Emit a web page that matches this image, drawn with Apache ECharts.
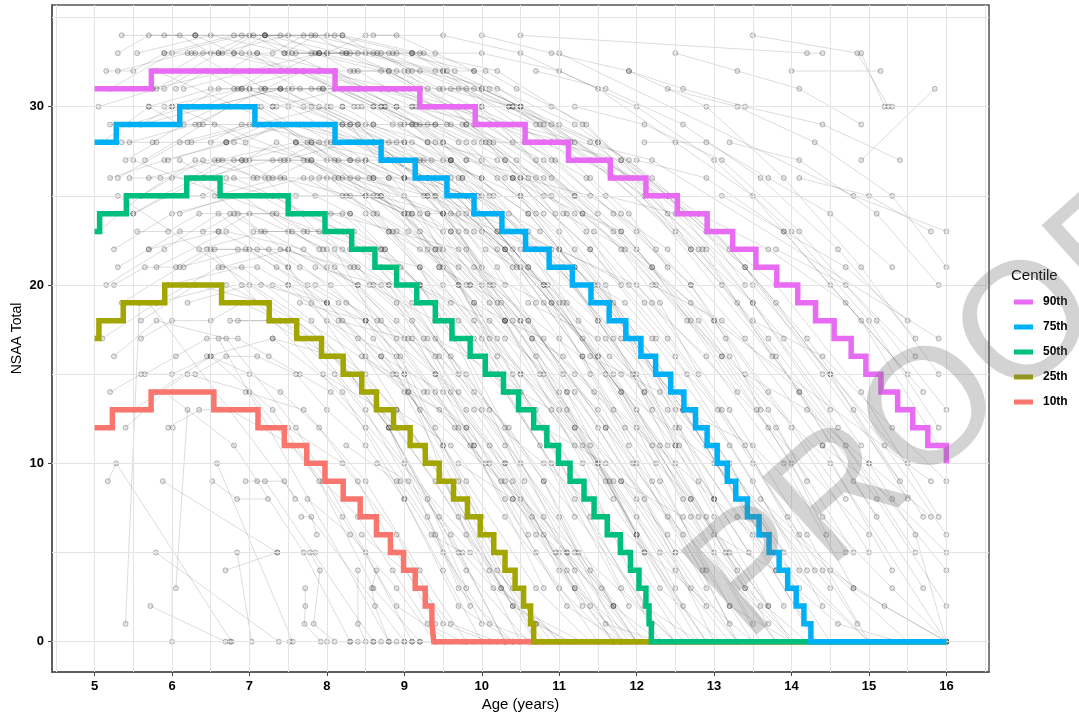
<!DOCTYPE html>
<html>
<head>
<meta charset="utf-8">
<title>NSAA Total by age with centiles</title>
<script src="https://cdn.jsdelivr.net/npm/echarts@6.0.0/dist/echarts.min.js"></script>
<style>
  html, body { margin: 0; padding: 0; background: #ffffff; }
  #chart { width: 1079px; height: 720px; }
</style>
</head>
<body>
<div id="chart"></div>
<script>
// ---- Axis ticks and grid positions ----
const xTicks = [5, 6, 7, 8, 9, 10, 11, 12, 13, 14, 15, 16];
const yTicks = [0, 10, 20, 30];
const xGridLines = [4.5, 5, 5.5, 6, 6.5, 7, 7.5, 8, 8.5, 9, 9.5, 10, 10.5, 11, 11.5, 12, 12.5, 13, 13.5, 14, 14.5, 15, 15.5, 16, 16.5];
const yGridLines = [0, 5, 10, 15, 20, 25, 30, 35];

// ---- Centile curves: [age where the value starts, NSAA total] ----
const centileNames = ['10th', '25th', '50th', '75th', '90th'];
const legendOrder = ['90th', '75th', '50th', '25th', '10th'];

const c10 = [[5, 12], [5.23, 13], [5.73, 14], [6.54, 13], [7.11, 12], [7.45, 11], [7.74, 10], [7.975, 9], [8.21, 8], [8.43, 7], [8.64, 6], [8.82, 5], [8.99, 4], [9.14, 3], [9.27, 2], [9.356, 1], [9.38, 0], [16, 0]];
const c25 = [[5, 17], [5.056, 18], [5.37, 19], [5.906, 20], [6.64, 19], [7.255, 18], [7.61, 17], [7.93, 16], [8.21, 15], [8.45, 14], [8.64, 13], [8.86, 12], [9.075, 11], [9.27, 10], [9.45, 9], [9.635, 8], [9.815, 7], [9.98, 6], [10.155, 5], [10.3, 4], [10.43, 3], [10.54, 2], [10.63, 1], [10.67, 0], [16, 0]];
const c50 = [[5, 23], [5.065, 24], [5.41, 25], [6.19, 26], [6.62, 25], [7.5, 24], [7.975, 23], [8.32, 22], [8.62, 21], [8.9, 20], [9.16, 19], [9.4, 18], [9.615, 17], [9.85, 16], [10.045, 15], [10.28, 14], [10.475, 13], [10.67, 12], [10.84, 11], [10.99, 10], [11.14, 9], [11.32, 8], [11.45, 7], [11.62, 6], [11.79, 5], [11.92, 4], [12.03, 3], [12.12, 2], [12.16, 1], [12.19, 0], [16, 0]];
const c75 = [[5, 28], [5.28, 29], [6.1, 30], [7.07, 29], [8.105, 28], [8.7, 27], [9.14, 26], [9.55, 25], [9.9, 24], [10.26, 23], [10.565, 22], [10.87, 21], [11.17, 20], [11.41, 19], [11.645, 18], [11.86, 17], [12.055, 16], [12.245, 15], [12.44, 14], [12.61, 13], [12.76, 12], [12.91, 11], [13.04, 10], [13.17, 9], [13.28, 8], [13.43, 7], [13.58, 6], [13.71, 5], [13.84, 4], [13.95, 3], [14.06, 2], [14.16, 1], [14.25, 0], [16, 0]];
const c90 = [[5, 31], [5.733, 32], [8.105, 31], [9.2, 30], [9.916, 29], [10.56, 28], [11.12, 27], [11.66, 26], [12.12, 25], [12.525, 24], [12.91, 23], [13.24, 22], [13.54, 21], [13.81, 20], [14.08, 19], [14.31, 18], [14.55, 17], [14.77, 16], [14.96, 15], [15.155, 14], [15.37, 13], [15.565, 12], [15.76, 11], [16, 10]];

// ---- Individual patient visits: [age, score, age, score, ...] ----
const trajectories = [
  [5.05, 23, 5.6, 25, 6.3, 27, 7.2, 26, 8.1, 22, 9.0, 15, 9.8, 6, 10.5, 0],
  [5.1, 28, 5.7, 30, 6.5, 31, 7.4, 31, 8.3, 29, 9.2, 24, 10.1, 17],
  [5.15, 20, 5.9, 22, 6.6, 24, 7.5, 21, 8.6, 14, 9.7, 3, 10.4, 0, 11.2, 0],
  [5.2, 31, 6.0, 33, 6.9, 34, 7.8, 33, 8.7, 32, 9.6, 30, 10.6, 26, 11.6, 20, 12.5, 11],
  [5.25, 16, 5.8, 18, 6.7, 17, 7.6, 12, 8.5, 5, 9.1, 0],
  [5.3, 26, 6.1, 28, 7.0, 29, 8.0, 28, 9.0, 25, 10.0, 20, 11.1, 14, 12.0, 6, 12.8, 0],
  [5.35, 34, 6.3, 34, 7.2, 34, 8.2, 33, 9.3, 31, 10.4, 28, 11.5, 24],
  [5.4, 12, 5.9, 14, 6.8, 11, 7.7, 5, 8.3, 0, 9.0, 0],
  [5.45, 29, 6.2, 30, 7.1, 30, 8.1, 27, 9.2, 21, 10.3, 12, 11.2, 4],
  [5.5, 24, 6.4, 26, 7.3, 25, 8.2, 23, 9.1, 19, 10.0, 13, 11.0, 7, 11.8, 0],
  [5.55, 33, 6.5, 34, 7.5, 33, 8.5, 31, 9.5, 28, 10.5, 23, 11.7, 15, 12.9, 7, 14.0, 0],
  [5.6, 18, 6.3, 20, 7.2, 19, 8.1, 15, 9.0, 10, 9.7, 5, 10.3, 0],
  [5.65, 27, 6.4, 29, 7.4, 29, 8.3, 26, 9.4, 22, 10.5, 15, 11.6, 9, 12.6, 2],
  [5.7, 22, 6.6, 23, 7.5, 21, 8.5, 16, 9.5, 9, 10.4, 2, 11.3, 0],
  [5.75, 31, 6.7, 32, 7.6, 32, 8.6, 30, 9.6, 27, 10.7, 22, 11.8, 17, 12.9, 12, 13.9, 5],
  [5.8, 14, 6.5, 16, 7.3, 13, 8.2, 7, 8.9, 2, 9.6, 0],
  [5.85, 25, 6.8, 27, 7.7, 27, 8.7, 25, 9.7, 20, 10.8, 12, 11.8, 3, 12.5, 0],
  [5.9, 30, 6.9, 31, 7.9, 30, 8.9, 28, 9.9, 24, 10.9, 19, 12.0, 13, 13.0, 5, 13.8, 0],
  [5.95, 20, 6.9, 21, 7.8, 18, 8.8, 12, 9.8, 4, 10.6, 0],
  [5.05, 30, 5.8, 31, 6.6, 33, 7.6, 32, 8.7, 30, 9.8, 27],
  [5.1, 17, 5.8, 19, 6.7, 20, 7.6, 18, 8.5, 13, 9.3, 7, 10.0, 1],
  [5.2, 26, 5.9, 27, 6.8, 28, 7.8, 27, 8.8, 23, 9.9, 17, 10.9, 10, 11.9, 2],
  [5.25, 22, 6.0, 24, 6.9, 25, 7.9, 22, 8.9, 17, 9.9, 11, 10.8, 3],
  [5.3, 32, 6.2, 33, 7.1, 33, 8.1, 32, 9.1, 30, 10.1, 29, 11.2, 25, 12.2, 21, 13.3, 14],
  [5.35, 19, 6.1, 21, 7.0, 22, 8.0, 19, 9.0, 14, 10.0, 6, 10.7, 0],
  [5.45, 28, 6.3, 29, 7.2, 31, 8.2, 29, 9.2, 26, 10.2, 21, 11.2, 14, 12.1, 8, 13.0, 0],
  [5.5, 13, 6.2, 15, 7.0, 14, 7.9, 9, 8.6, 3, 9.2, 0],
  [5.6, 29, 6.5, 30, 7.4, 31, 8.4, 29, 9.4, 25, 10.4, 18, 11.4, 11, 12.3, 3, 13.1, 0],
  [5.7, 26, 6.6, 27, 7.6, 28, 8.6, 26, 9.6, 23, 10.6, 18, 11.6, 12, 12.5, 5],
  [5.8, 21, 6.7, 23, 7.7, 22, 8.7, 18, 9.7, 12, 10.7, 5, 11.5, 0],
  [5.9, 33, 6.8, 34, 7.8, 34, 8.8, 33, 9.8, 31, 10.8, 28, 11.8, 26, 12.8, 22, 13.8, 16, 14.8, 9, 15.7, 3],
  [5.95, 27, 6.7, 28, 7.5, 29, 8.4, 28, 9.3, 26, 10.3, 22, 11.3, 16, 12.2, 9, 13.2, 1],
  [6.1, 24, 6.8, 25, 7.7, 26, 8.6, 24, 9.5, 20, 10.5, 14, 11.4, 7, 12.3, 0],
  [6.15, 31, 7.0, 32, 7.9, 32, 8.9, 31, 9.9, 29, 10.9, 26, 12.0, 22, 13.1, 16],
  [6.2, 19, 7.0, 20, 7.9, 17, 8.8, 12, 9.6, 6, 10.3, 0, 11.0, 0],
  [6.25, 28, 7.1, 29, 8.0, 30, 9.0, 28, 10.0, 24, 11.0, 19, 12.0, 12, 12.9, 4],
  [6.3, 34, 7.2, 34, 8.2, 34, 9.2, 33, 10.2, 32, 11.3, 29, 12.4, 25, 13.5, 19, 14.6, 12],
  [6.35, 22, 7.2, 23, 8.1, 21, 9.1, 17, 10.1, 11, 11.0, 4, 11.7, 0],
  [6.4, 26, 7.3, 27, 8.3, 27, 9.3, 24, 10.3, 18, 11.3, 10, 12.2, 1],
  [6.45, 16, 7.3, 17, 8.2, 14, 9.0, 8, 9.7, 2, 10.4, 0],
  [6.5, 30, 7.4, 31, 8.4, 31, 9.4, 29, 10.4, 26, 11.4, 22, 12.5, 16, 13.5, 9, 14.4, 2],
  [6.55, 25, 7.4, 26, 8.3, 25, 9.3, 22, 10.3, 17, 11.3, 11, 12.3, 5, 13.2, 0],
  [6.6, 33, 7.5, 34, 8.5, 33, 9.5, 32, 10.5, 30, 11.6, 27, 12.7, 24, 13.8, 20, 14.9, 14, 15.9, 7],
  [6.65, 21, 7.5, 22, 8.4, 20, 9.4, 15, 10.4, 9, 11.2, 3, 12.0, 0],
  [6.7, 28, 7.6, 29, 8.6, 28, 9.6, 26, 10.6, 21, 11.6, 15, 12.6, 8, 13.5, 1],
  [6.75, 18, 7.6, 18, 8.5, 15, 9.4, 10, 10.2, 4, 10.9, 0],
  [6.8, 31, 7.7, 32, 8.7, 30, 9.7, 28, 10.7, 24, 11.7, 19, 12.7, 13, 13.6, 6],
  [6.85, 24, 7.7, 24, 8.7, 22, 9.7, 18, 10.7, 13, 11.7, 6, 12.6, 0],
  [6.9, 27, 7.8, 28, 8.8, 27, 9.8, 25, 10.8, 20, 11.8, 14, 12.7, 7, 13.6, 0],
  [6.95, 14, 7.7, 13, 8.5, 9, 9.2, 4, 9.8, 0],
  [7.0, 32, 7.9, 33, 8.9, 32, 9.9, 30, 10.9, 27, 12.0, 23, 13.0, 18, 14.0, 12, 15.0, 5],
  [7.05, 23, 7.9, 23, 8.8, 20, 9.8, 15, 10.8, 9, 11.7, 2],
  [7.1, 29, 8.0, 29, 9.0, 27, 10.0, 23, 11.0, 17, 12.0, 10, 12.9, 3],
  [7.15, 20, 8.0, 19, 8.9, 15, 9.8, 9, 10.7, 3, 11.4, 0],
  [7.2, 34, 8.1, 34, 9.1, 33, 10.1, 31, 11.2, 28, 12.3, 25, 13.4, 21, 14.5, 15, 15.5, 10],
  [7.25, 26, 8.1, 26, 9.1, 24, 10.1, 19, 11.1, 13, 12.0, 6, 12.9, 0],
  [7.3, 17, 8.1, 16, 8.9, 12, 9.7, 7, 10.4, 2, 11.1, 0],
  [7.35, 30, 8.2, 31, 9.2, 29, 10.2, 26, 11.2, 22, 12.2, 16, 13.2, 10, 14.1, 3],
  [7.4, 22, 8.3, 21, 9.3, 17, 10.3, 11, 11.2, 5, 12.0, 0],
  [7.45, 27, 8.3, 28, 9.3, 26, 10.3, 22, 11.3, 16, 12.3, 9, 13.2, 2],
  [7.5, 12, 8.2, 10, 8.9, 6, 9.5, 1, 10.1, 0],
  [7.55, 33, 8.4, 33, 9.4, 32, 10.4, 30, 11.4, 27, 12.5, 23, 13.5, 19, 14.5, 13],
  [7.6, 25, 8.5, 25, 9.5, 23, 10.5, 18, 11.5, 12, 12.5, 5, 13.3, 0],
  [7.65, 19, 8.5, 18, 9.4, 14, 10.3, 8, 11.1, 2, 11.8, 0],
  [7.7, 29, 8.6, 29, 9.6, 27, 10.6, 24, 11.6, 19, 12.6, 13, 13.6, 6],
  [7.75, 8, 8.3, 6, 8.9, 3, 9.4, 0],
  [7.8, 31, 8.7, 31, 9.7, 30, 10.7, 28, 11.7, 24, 12.7, 20, 13.7, 14, 14.7, 8],
  [7.85, 21, 8.7, 20, 9.6, 16, 10.5, 10, 11.4, 4, 12.1, 0],
  [7.9, 26, 8.8, 26, 9.8, 24, 10.8, 20, 11.8, 14, 12.8, 7, 13.7, 1],
  [7.95, 15, 8.7, 13, 9.4, 9, 10.1, 4, 10.8, 0],
  [8.0, 33, 8.9, 33, 9.9, 32, 10.9, 29, 11.9, 26, 12.9, 22, 13.9, 17, 14.9, 11],
  [8.05, 24, 8.9, 23, 9.8, 20, 10.8, 15, 11.8, 9, 12.7, 3],
  [8.1, 28, 9.0, 28, 10.0, 25, 11.0, 21, 12.0, 15, 13.0, 8, 13.9, 2],
  [8.15, 18, 9.0, 17, 9.9, 13, 10.8, 7, 11.6, 1, 12.3, 0],
  [8.2, 30, 9.1, 30, 10.1, 28, 11.1, 24, 12.1, 19, 13.1, 13, 14.1, 6],
  [8.25, 11, 8.9, 9, 9.5, 5, 10.1, 1, 10.7, 0],
  [8.3, 22, 9.2, 21, 10.2, 17, 11.2, 11, 12.1, 5, 12.9, 0],
  [8.35, 32, 9.2, 32, 10.2, 31, 11.2, 29, 12.2, 26, 13.2, 22, 14.2, 17, 15.2, 11, 16.0, 6],
  [8.4, 26, 9.3, 25, 10.3, 22, 11.3, 17, 12.3, 11, 13.3, 4],
  [8.45, 6, 9.0, 4, 9.6, 1, 10.2, 0],
  [8.5, 29, 9.4, 28, 10.4, 26, 11.4, 22, 12.4, 17, 13.4, 11, 14.3, 4],
  [8.55, 20, 9.4, 18, 10.3, 14, 11.2, 8, 12.1, 2, 12.8, 0],
  [8.6, 34, 9.5, 34, 10.5, 33, 11.5, 31, 12.5, 28, 13.5, 25, 14.5, 20, 15.5, 15],
  [8.65, 25, 9.5, 24, 10.5, 21, 11.5, 16, 12.5, 10, 13.4, 3],
  [8.7, 16, 9.5, 14, 10.3, 10, 11.1, 5, 11.9, 0],
  [8.75, 27, 9.6, 27, 10.6, 24, 11.6, 19, 12.6, 13, 13.6, 6, 14.5, 0],
  [8.8, 31, 9.7, 31, 10.7, 29, 11.7, 26, 12.7, 22, 13.7, 17, 14.7, 11, 15.6, 5],
  [8.85, 23, 9.7, 22, 10.6, 18, 11.6, 12, 12.6, 6, 13.5, 0],
  [8.9, 13, 9.6, 11, 10.3, 7, 11.0, 3, 11.7, 0],
  [8.95, 29, 9.8, 29, 10.8, 27, 11.8, 23, 12.8, 18, 13.8, 12, 14.8, 5],
  [9.0, 26, 9.9, 25, 10.9, 22, 11.9, 17, 12.9, 11, 13.8, 4],
  [9.1, 33, 10.0, 33, 11.0, 32, 12.0, 30, 13.0, 27, 14.0, 23, 15.0, 18, 15.9, 12],
  [9.2, 20, 10.1, 18, 11.1, 14, 12.0, 8, 12.9, 2],
  [9.3, 28, 10.2, 27, 11.2, 24, 12.2, 19, 13.2, 13, 14.2, 6, 15.0, 0],
  [9.4, 17, 10.2, 15, 11.0, 11, 11.9, 5, 12.7, 0],
  [9.5, 31, 10.4, 30, 11.4, 28, 12.4, 25, 13.4, 21, 14.4, 15, 15.4, 9],
  [9.6, 24, 10.5, 22, 11.5, 18, 12.5, 12, 13.5, 6, 14.3, 0],
  [9.7, 10, 10.4, 8, 11.1, 4, 11.8, 0],
  [9.8, 27, 10.7, 26, 11.7, 23, 12.7, 18, 13.7, 12, 14.7, 5],
  [9.9, 21, 10.8, 19, 11.8, 15, 12.8, 9, 13.7, 2],
  [10.0, 34, 10.9, 33, 11.9, 32, 12.9, 30, 13.9, 26, 14.9, 21, 15.9, 15],
  [10.1, 15, 10.9, 13, 11.7, 9, 12.5, 4, 13.3, 0],
  [10.2, 29, 11.1, 28, 12.1, 25, 13.1, 20, 14.1, 14, 15.1, 7],
  [10.3, 23, 11.2, 21, 12.2, 17, 13.2, 11, 14.2, 4],
  [10.4, 8, 11.0, 5, 11.7, 2, 12.3, 0],
  [10.5, 26, 11.4, 25, 12.4, 22, 13.4, 17, 14.4, 11, 15.3, 4],
  [10.6, 19, 11.5, 17, 12.4, 13, 13.3, 7, 14.2, 1],
  [10.7, 32, 11.6, 31, 12.6, 29, 13.6, 26, 14.6, 22, 15.6, 17],
  [10.8, 12, 11.6, 10, 12.4, 6, 13.2, 2, 14.0, 0],
  [10.9, 28, 11.8, 27, 12.8, 24, 13.8, 19, 14.8, 13, 15.7, 7],
  [11.0, 22, 11.9, 20, 12.9, 16, 13.9, 10, 14.8, 3],
  [11.2, 30, 12.1, 29, 13.1, 27, 14.1, 23, 15.1, 18, 16.0, 13],
  [11.4, 16, 12.3, 14, 13.2, 9, 14.1, 4, 15.0, 0],
  [11.6, 25, 12.5, 24, 13.5, 20, 14.5, 15, 15.5, 8],
  [11.8, 9, 12.6, 7, 13.4, 3, 14.2, 0, 15.2, 0],
  [12.0, 27, 12.9, 26, 13.9, 23, 14.9, 18, 15.9, 11],
  [12.2, 20, 13.1, 18, 14.1, 14, 15.1, 8, 16.0, 2],
  [12.4, 31, 13.3, 30, 14.3, 28, 15.3, 25, 16.0, 21],
  [12.6, 13, 13.5, 11, 14.4, 7, 15.3, 3, 16.0, 0],
  [12.8, 24, 13.7, 22, 14.7, 19, 15.7, 14],
  [13.0, 6, 13.8, 4, 14.6, 1, 15.4, 0],
  [13.2, 28, 14.1, 27, 15.1, 24, 15.9, 20],
  [13.5, 18, 14.4, 16, 15.3, 12, 16.0, 9],
  [13.8, 22, 14.7, 20, 15.6, 16],
  [14.1, 26, 15.0, 25, 15.8, 23],
  [14.4, 11, 15.3, 8, 16.0, 5],
  [14.9, 33, 15.2, 30, 15.3, 30],
  [13.5, 34, 14.85, 33, 15.25, 30],
  [14.0, 32, 15.15, 32],
  [14.9, 27, 15.85, 31],
  [10.5, 34, 14.2, 33, 14.4, 33],
  [5.5, 27, 8.5, 22, 12.5, 0],
  [6.0, 30, 9.5, 24, 13.8, 0],
  [6.5, 22, 11.0, 0],
  [7.0, 31, 10.0, 26, 14.5, 3],
  [5.8, 32, 12.0, 20, 15.0, 6],
  [7.5, 20, 12.5, 0],
  [8.0, 34, 11.5, 28, 16.0, 4],
  [6.3, 26, 10.8, 10, 13.5, 0],
  [9.0, 32, 13.0, 18, 15.8, 9],
  [5.3, 25, 9.8, 12, 12.0, 0],
  [7.8, 28, 13.0, 10, 15.5, 0],
  [6.8, 33, 12.2, 27, 15.9, 17],
  [8.5, 24, 14.0, 0],
  [10.0, 30, 14.5, 10, 16.0, 0],
  [5.7, 19, 9.0, 0],
  [9.5, 22, 15.0, 0],
  [11.0, 33, 14.8, 25, 16.0, 23],
  [6.6, 17, 8.8, 0, 10.5, 0],
  [7.2, 9, 8.6, 0],
  [5.72, 2, 6.69, 0, 6.75, 0],
  [6.69, 4, 7.36, 5],
  [5.4, 1, 5.58, 19],
  [6.0, 0, 6.01, 12],
  [6.05, 3, 6.2, 13],
  [5.17, 9, 5.28, 10, 6.77, 0],
  [5.88, 9, 7.36, 5, 7.85, 5],
  [6.58, 10, 7.56, 0],
  [6.52, 9, 6.84, 8, 7.24, 8],
  [6.84, 5, 7.03, 0],
  [5.79, 5, 7.38, 0, 7.52, 0],
  [6.95, 9, 7.1, 9, 7.45, 9, 7.59, 8],
  [7.67, 7, 7.8, 7, 7.87, 6],
  [7.72, 3, 7.72, 2, 7.71, 1, 7.92, 0],
  [7.78, 5, 7.91, 4, 7.83, 1, 8.1, 0],
  [8.4, 4, 8.4, 1, 8.5, 0],
  [8.64, 4, 8.58, 3, 8.62, 2, 8.8, 0],
  [5.3, 33, 5.7, 34, 6.1, 34, 6.5, 33, 7.0, 34, 7.4, 34, 7.9, 33, 8.3, 33, 8.8, 32, 9.2, 31],
  [5.5, 31, 5.9, 31, 6.3, 32, 6.8, 32, 7.2, 31, 7.7, 32, 8.1, 31, 8.6, 30, 9.1, 29, 9.6, 27, 10.1, 25],
  [5.2, 29, 5.6, 29, 6.0, 30, 6.4, 30, 6.9, 31, 7.3, 30, 7.8, 30, 8.3, 29, 8.8, 28, 9.3, 26, 9.8, 23, 10.3, 20],
  [5.4, 27, 5.8, 28, 6.2, 28, 6.7, 28, 7.2, 29, 7.6, 28, 8.1, 28, 8.5, 27, 9.0, 26, 9.5, 24, 10.0, 21],
  [5.6, 25, 6.0, 26, 6.4, 27, 6.9, 27, 7.3, 26, 7.8, 27, 8.2, 26, 8.7, 25, 9.2, 23, 9.7, 20, 10.2, 16],
  [5.1, 24, 5.5, 24, 5.9, 25, 6.4, 25, 6.8, 26, 7.3, 25, 7.7, 24, 8.2, 24, 8.7, 22, 9.2, 19, 9.7, 15],
  [6.0, 32, 6.4, 33, 6.9, 33, 7.3, 33, 7.7, 34, 8.2, 34, 8.6, 33, 9.1, 33, 9.5, 32, 10.0, 31, 10.5, 30],
  [6.2, 30, 6.6, 31, 7.0, 31, 7.5, 31, 7.9, 31, 8.4, 30, 8.9, 30, 9.3, 29, 9.8, 28, 10.3, 26],
  [6.5, 28, 6.9, 29, 7.4, 29, 7.8, 29, 8.3, 28, 8.7, 28, 9.2, 27, 9.7, 25, 10.2, 22, 10.7, 19],
  [6.7, 26, 7.1, 26, 7.5, 27, 8.0, 26, 8.5, 25, 9.0, 24, 9.4, 22, 9.9, 19, 10.4, 15, 10.9, 11],
  [5.3, 21, 5.7, 22, 6.1, 23, 6.6, 23, 7.0, 24, 7.5, 23, 8.0, 22, 8.4, 21, 8.9, 19, 9.4, 15, 9.9, 11],
  [5.8, 19, 6.2, 20, 6.6, 21, 7.1, 21, 7.5, 20, 8.0, 19, 8.5, 18, 9.0, 15, 9.5, 11, 10.0, 7],
  [7.0, 33, 7.4, 32, 7.9, 33, 8.3, 32, 8.8, 32, 9.2, 31, 9.7, 30, 10.2, 29, 10.7, 27, 11.2, 25],
  [7.3, 30, 7.7, 30, 8.2, 30, 8.6, 29, 9.1, 29, 9.5, 28, 10.0, 27, 10.5, 25, 11.0, 22, 11.5, 19],
  [7.6, 28, 8.0, 27, 8.5, 27, 9.0, 26, 9.4, 26, 9.9, 24, 10.4, 22, 10.9, 19, 11.4, 15, 11.9, 11],
  [7.9, 24, 8.3, 24, 8.8, 23, 9.2, 22, 9.7, 21, 10.2, 19, 10.7, 16, 11.2, 12, 11.7, 8],
  [8.1, 32, 8.5, 31, 9.0, 31, 9.4, 30, 9.9, 30, 10.4, 29, 10.9, 28, 11.4, 26, 11.9, 24, 12.4, 21],
  [8.4, 27, 8.8, 26, 9.3, 26, 9.8, 25, 10.2, 23, 10.7, 22, 11.2, 20, 11.7, 17, 12.2, 13],
  [8.7, 21, 9.1, 20, 9.6, 19, 10.0, 17, 10.5, 15, 11.0, 13, 11.5, 10, 12.0, 7, 12.5, 3],
  [9.0, 29, 9.4, 29, 9.9, 28, 10.3, 27, 10.8, 26, 11.3, 24, 11.8, 22, 12.3, 19, 12.8, 15],
  [5.9, 34, 6.3, 34, 6.8, 33, 7.2, 34, 7.6, 33, 8.0, 33, 8.5, 34, 8.9, 34, 9.4, 33, 9.9, 32],
  [6.1, 27, 6.5, 26, 7.0, 27, 7.4, 27, 7.9, 28, 8.3, 27, 8.8, 27, 9.3, 25, 9.8, 22, 10.3, 18],
  [6.4, 23, 6.8, 24, 7.3, 24, 7.7, 23, 8.2, 22, 8.6, 20, 9.1, 18, 9.6, 14, 10.1, 10, 10.6, 6],
  [6.9, 20, 7.3, 20, 7.8, 19, 8.2, 18, 8.7, 16, 9.2, 13, 9.7, 9, 10.2, 5, 10.7, 1],
  [5.6, 17, 6.0, 18, 6.5, 18, 6.9, 19, 7.4, 18, 7.8, 17, 8.3, 15, 8.8, 12, 9.3, 8, 9.8, 3],
  [6.3, 15, 6.7, 16, 7.1, 16, 7.6, 15, 8.0, 13, 8.5, 11, 9.0, 8, 9.5, 4, 10.0, 0, 10.5, 0],
  [5.2, 14, 5.6, 15, 6.0, 15, 6.5, 16, 7.0, 15, 7.4, 14, 7.9, 12, 8.4, 9, 8.9, 5, 9.4, 1],
  [7.1, 22, 7.5, 22, 8.0, 21, 8.4, 20, 8.9, 18, 9.4, 16, 9.8, 13, 10.3, 10, 10.8, 6, 11.3, 2],
  [7.8, 26, 8.2, 25, 8.6, 25, 9.1, 24, 9.6, 23, 10.1, 20, 10.5, 18, 11.0, 14, 11.5, 10, 12.0, 6],
  [8.2, 29, 8.6, 28, 9.1, 28, 9.5, 27, 10.0, 26, 10.5, 25, 11.0, 23, 11.5, 20, 12.0, 17, 12.5, 13],
  [8.0, 18, 8.4, 17, 8.9, 16, 9.3, 14, 9.8, 12, 10.3, 9, 10.7, 6, 11.2, 3, 11.7, 0, 12.2, 0],
  [9.3, 24, 9.7, 24, 10.2, 23, 10.6, 21, 11.1, 19, 11.6, 17, 12.1, 14, 12.5, 11, 13.0, 7],
  [9.6, 31, 10.0, 31, 10.5, 30, 11.0, 29, 11.5, 28, 11.9, 27, 12.4, 25, 12.9, 23, 13.4, 20],
  [8.3, 0, 8.6, 0, 8.9, 0, 9.2, 0, 9.5, 0, 9.9, 0],
  [8.0, 0, 8.4, 0, 8.7, 0, 9.1, 0, 9.4, 0, 9.8, 0, 10.3, 0],
  [10.5, 0, 11.0, 0, 11.5, 0, 12.0, 0, 12.6, 0, 13.2, 0, 14.0, 0],
  [9.9, 19, 10.3, 18, 10.8, 17, 11.2, 15, 11.7, 13, 12.2, 11, 12.7, 8, 13.2, 5, 13.7, 2],
  [10.4, 26, 10.8, 25, 11.3, 24, 11.8, 23, 12.2, 21, 12.7, 19, 13.2, 16, 13.7, 13, 14.2, 9],
  [5.7, 30, 6.1, 29, 6.6, 30, 7.0, 30, 7.5, 30, 7.9, 29, 8.4, 29, 8.9, 27, 9.4, 25, 9.9, 23, 10.4, 21],
  [6.6, 32, 7.0, 32, 7.5, 32, 7.9, 32, 8.4, 32, 8.8, 31, 9.3, 30, 9.8, 29, 10.3, 27, 10.8, 24],
  [14.5, 4, 15.2, 2, 16.0, 0],
  [13.6, 8, 14.8, 3, 16.0, 0],
  [15.0, 10, 15.6, 6, 16.0, 0],
  [5.15, 32, 5.5, 32, 5.9, 33, 6.3, 33, 6.7, 32, 7.1, 33, 7.5, 32, 8.0, 32, 8.4, 31, 8.9, 30],
  [5.35, 28, 5.75, 28, 6.15, 29, 6.55, 29, 6.95, 28, 7.35, 29, 7.75, 28, 8.15, 27, 8.6, 26, 9.05, 24, 9.5, 21],
  [5.45, 26, 5.85, 26, 6.25, 26, 6.65, 27, 7.05, 26, 7.45, 26, 7.85, 25, 8.3, 24, 8.75, 22, 9.2, 20, 9.65, 17],
  [5.25, 20, 5.65, 21, 6.05, 21, 6.45, 22, 6.85, 22, 7.25, 22, 7.65, 21, 8.05, 20, 8.5, 18, 8.95, 16, 9.4, 12],
  [5.55, 23, 5.95, 23, 6.35, 24, 6.75, 24, 7.15, 23, 7.55, 23, 7.95, 22, 8.35, 21, 8.8, 20, 9.25, 17, 9.7, 14],
  [6.05, 31, 6.45, 32, 6.85, 31, 7.25, 32, 7.65, 31, 8.05, 30, 8.45, 30, 8.85, 29, 9.3, 28, 9.75, 26, 10.2, 24],
  [6.25, 33, 6.65, 33, 7.05, 34, 7.45, 33, 7.85, 33, 8.25, 33, 8.7, 33, 9.1, 32, 9.55, 32, 10.0, 30],
  [6.35, 29, 6.75, 30, 7.15, 30, 7.55, 29, 7.95, 29, 8.35, 28, 8.8, 27, 9.25, 25, 9.7, 23, 10.15, 20],
  [6.55, 27, 6.95, 27, 7.35, 28, 7.75, 27, 8.15, 26, 8.55, 26, 9.0, 24, 9.45, 21, 9.9, 18, 10.35, 14],
  [6.75, 25, 7.15, 25, 7.55, 24, 7.95, 24, 8.35, 23, 8.75, 22, 9.2, 20, 9.65, 17, 10.1, 13, 10.55, 9],
  [7.15, 31, 7.55, 31, 7.95, 31, 8.35, 31, 8.75, 30, 9.15, 30, 9.6, 29, 10.05, 28, 10.5, 26, 10.95, 24],
  [7.45, 33, 7.85, 34, 8.25, 33, 8.65, 33, 9.05, 32, 9.45, 31, 9.9, 31, 10.35, 30, 10.8, 29, 11.25, 27],
  [7.65, 29, 8.05, 28, 8.45, 28, 8.85, 27, 9.25, 27, 9.7, 26, 10.15, 24, 10.6, 22, 11.05, 19, 11.5, 16],
  [7.95, 31, 8.35, 30, 8.75, 30, 9.15, 29, 9.55, 29, 10.0, 28, 10.45, 27, 10.9, 25, 11.35, 23, 11.8, 20],
  [8.25, 25, 8.65, 24, 9.05, 23, 9.45, 22, 9.85, 20, 10.3, 18, 10.75, 15, 11.2, 12, 11.65, 9, 12.1, 5],
  [8.55, 28, 8.95, 27, 9.35, 27, 9.75, 26, 10.15, 25, 10.6, 23, 11.05, 21, 11.5, 18, 11.95, 15, 12.4, 11],
  [8.85, 33, 9.25, 33, 9.65, 32, 10.05, 32, 10.45, 31, 10.9, 30, 11.35, 29, 11.8, 27, 12.25, 25, 12.7, 22],
  [9.15, 27, 9.55, 26, 9.95, 25, 10.35, 24, 10.75, 23, 11.2, 21, 11.65, 19, 12.1, 16, 12.55, 12, 13.0, 8],
  [9.45, 21, 9.85, 20, 10.25, 19, 10.65, 17, 11.05, 15, 11.5, 13, 11.95, 10, 12.4, 7, 12.85, 4, 13.3, 0],
  [9.75, 29, 10.15, 28, 10.55, 28, 10.95, 27, 11.35, 26, 11.8, 24, 12.25, 22, 12.7, 20, 13.15, 17, 13.6, 13],
  [5.65, 15, 6.05, 16, 6.45, 17, 6.85, 17, 7.25, 16, 7.65, 15, 8.05, 14, 8.5, 12, 8.95, 9, 9.4, 6, 9.85, 2],
  [6.15, 21, 6.55, 22, 6.95, 22, 7.35, 21, 7.75, 20, 8.15, 19, 8.6, 17, 9.05, 14, 9.5, 11, 9.95, 7, 10.4, 3],
  [6.85, 18, 7.25, 18, 7.65, 17, 8.05, 16, 8.45, 15, 8.9, 13, 9.35, 10, 9.8, 7, 10.25, 3, 10.7, 0],
  [7.35, 24, 7.75, 23, 8.15, 23, 8.55, 22, 8.95, 21, 9.4, 19, 9.85, 17, 10.3, 14, 10.75, 11, 11.2, 7],
  [7.85, 20, 8.25, 19, 8.65, 18, 9.05, 17, 9.45, 16, 9.9, 14, 10.35, 12, 10.8, 9, 11.25, 5, 11.7, 2],
  [8.45, 16, 8.85, 15, 9.25, 14, 9.65, 12, 10.05, 10, 10.5, 8, 10.95, 5, 11.4, 2, 11.85, 0],
  [9.05, 14, 9.45, 13, 9.85, 11, 10.25, 9, 10.65, 7, 11.1, 5, 11.55, 3, 12.0, 0, 12.45, 0],
  [10.05, 22, 10.45, 21, 10.85, 20, 11.25, 18, 11.65, 16, 12.1, 14, 12.55, 11, 13.0, 8, 13.45, 5],
  [10.35, 30, 10.75, 29, 11.15, 28, 11.55, 27, 11.95, 26, 12.4, 24, 12.85, 22, 13.3, 19, 13.75, 16],
  [10.65, 17, 11.05, 16, 11.45, 14, 11.85, 12, 12.25, 10, 12.7, 8, 13.15, 5, 13.6, 2, 14.05, 0],
  [11.05, 24, 11.45, 23, 11.85, 22, 12.25, 20, 12.65, 18, 13.1, 16, 13.55, 13, 14.0, 10, 14.45, 6],
  [11.45, 20, 11.85, 19, 12.25, 17, 12.65, 15, 13.05, 13, 13.5, 10, 13.95, 7, 14.4, 4, 14.85, 1],
  [5.95, 12, 6.35, 13, 6.75, 13, 7.15, 12, 7.55, 11, 7.95, 9, 8.4, 7, 8.85, 4, 9.3, 1, 9.75, 0],
  [8.65, 10, 9.05, 9, 9.45, 7, 9.85, 5, 10.25, 3, 10.7, 1, 11.15, 0],
  [9.35, 6, 9.75, 5, 10.15, 3, 10.55, 2, 11.0, 0, 11.45, 0],
  [12.1, 28, 12.9, 28, 13.7, 26, 14.5, 24, 15.3, 21],
  [12.5, 33, 13.3, 32, 14.1, 31, 14.9, 29],
  [11.9, 32, 12.6, 31, 13.4, 30, 14.4, 29, 15.4, 27],
  [13.1, 25, 13.9, 23, 14.7, 21, 15.5, 18],
  [13.4, 15, 14.2, 13, 15.0, 10, 15.8, 7]
];

// ---- Build chart data from the arrays above ----
const toPairs = t => {
  const out = [];
  for (let i = 0; i < t.length; i += 2) out.push([t[i], t[i + 1]]);
  return out;
};
const paths = trajectories.map(toPairs);
const visitPoints = paths.flat();
const centileData = { '10th': c10, '25th': c25, '50th': c50, '75th': c75, '90th': c90 };
const centileColors = { '90th': '#E76BF3', '75th': '#00B0F6', '50th': '#00BF7D', '25th': '#A3A500', '10th': '#F8766D' };

const FONT = '"Liberation Sans", Arial, Helvetica, sans-serif';

const chart = echarts.init(document.getElementById('chart'), null, { renderer: 'canvas' });

// Light panel grid drawn at fixed axis values
const gridSeries = {
  name: 'grid',
  type: 'line',
  data: [],
  silent: true,
  z: 0,
  showSymbol: false,
  markLine: {
    silent: true,
    animation: false,
    symbol: ['none', 'none'],
    label: { show: false },
    lineStyle: { type: 'solid', color: '#e4e4e4', width: 1 },
    data: xGridLines.map(v => ({ xAxis: v })).concat(yGridLines.map(v => ({ yAxis: v })))
  }
};

const trajectorySeries = {
  name: 'trajectories',
  type: 'lines',
  coordinateSystem: 'cartesian2d',
  polyline: true,
  silent: true,
  z: 1,
  lineStyle: { color: 'rgba(50,50,50,0.25)', width: 0.7, opacity: 1 },
  data: paths.map(p => ({ coords: p }))
};

const visitSeries = {
  name: 'visits',
  type: 'scatter',
  silent: true,
  z: 2,
  symbol: 'circle',
  symbolSize: 5,
  itemStyle: { color: 'rgba(80,80,80,0.16)', borderColor: 'rgba(50,50,50,0.5)', borderWidth: 0.8 },
  data: visitPoints
};

const centileSeries = centileNames.map((name, i) => ({
  name: name,
  type: 'line',
  step: 'end',
  showSymbol: false,
  silent: true,
  z: 5 + i,
  color: centileColors[name],
  lineStyle: { color: centileColors[name], width: 5.5, cap: 'butt', join: 'miter' },
  data: centileData[name]
}));

chart.setOption({
  animation: false,
  backgroundColor: '#ffffff',
  textStyle: { fontFamily: FONT },
  grid: {
    left: 52, top: 5, width: 937, height: 667,
    show: true, borderColor: '#555555', borderWidth: 1.5, backgroundColor: 'transparent',
    containLabel: false, outerBoundsMode: 'none'
  },
  title: {
    text: 'Centile',
    left: 1011, top: 268, padding: 0,
    textStyle: { fontFamily: FONT, fontSize: 15, fontWeight: 'normal', color: '#000000' }
  },
  legend: {
    data: legendOrder,
    orient: 'vertical',
    left: 1014, top: 295, padding: 0,
    icon: 'rect',
    itemWidth: 19, itemHeight: 5, itemGap: 11,
    selectedMode: false,
    textStyle: { fontFamily: FONT, fontSize: 12, fontWeight: 'bold', color: '#000000', lineHeight: 14, padding: [0, 0, 0, 5] }
  },
  xAxis: {
    type: 'value',
    min: 4.45, max: 16.55,
    name: 'Age (years)',
    nameLocation: 'middle',
    nameGap: 25,
    nameMoveOverlap: false,
    nameTextStyle: { fontFamily: FONT, fontSize: 15, color: '#000000' },
    splitLine: { show: false },
    axisLine: { show: true, onZero: false, lineStyle: { color: '#555555', width: 1.5 } },
    axisTick: { show: true, length: 4, customValues: xTicks, lineStyle: { color: '#444444', width: 1 } },
    axisLabel: { customValues: xTicks, margin: 8, fontFamily: FONT, fontSize: 13, fontWeight: 'bold', color: '#000000' }
  },
  yAxis: {
    type: 'value',
    min: -1.7, max: 35.7,
    name: 'NSAA Total',
    nameLocation: 'middle',
    nameGap: 28,
    nameMoveOverlap: false,
    nameRotate: 90,
    nameTextStyle: { fontFamily: FONT, fontSize: 14, color: '#000000' },
    splitLine: { show: false },
    axisLine: { show: true, onZero: false, lineStyle: { color: '#555555', width: 1.5 } },
    axisTick: { show: true, length: 4, customValues: yTicks, lineStyle: { color: '#444444', width: 1 } },
    axisLabel: { customValues: yTicks, margin: 8, fontFamily: FONT, fontSize: 13, fontWeight: 'bold', color: '#000000' }
  },
  graphic: [{
    type: 'text',
    x: 716, y: 610,
    rotation: Math.PI * 42 / 180,
    silent: true,
    z: 100,
    style: {
      text: 'PROOF',
      fontFamily: FONT,
      fontSize: 165,
      fill: 'rgba(110,110,110,0.3)',
      align: 'left',
      verticalAlign: 'middle'
    }
  }],
  series: [gridSeries, trajectorySeries, visitSeries].concat(centileSeries)
});
</script>
</body>
</html>
